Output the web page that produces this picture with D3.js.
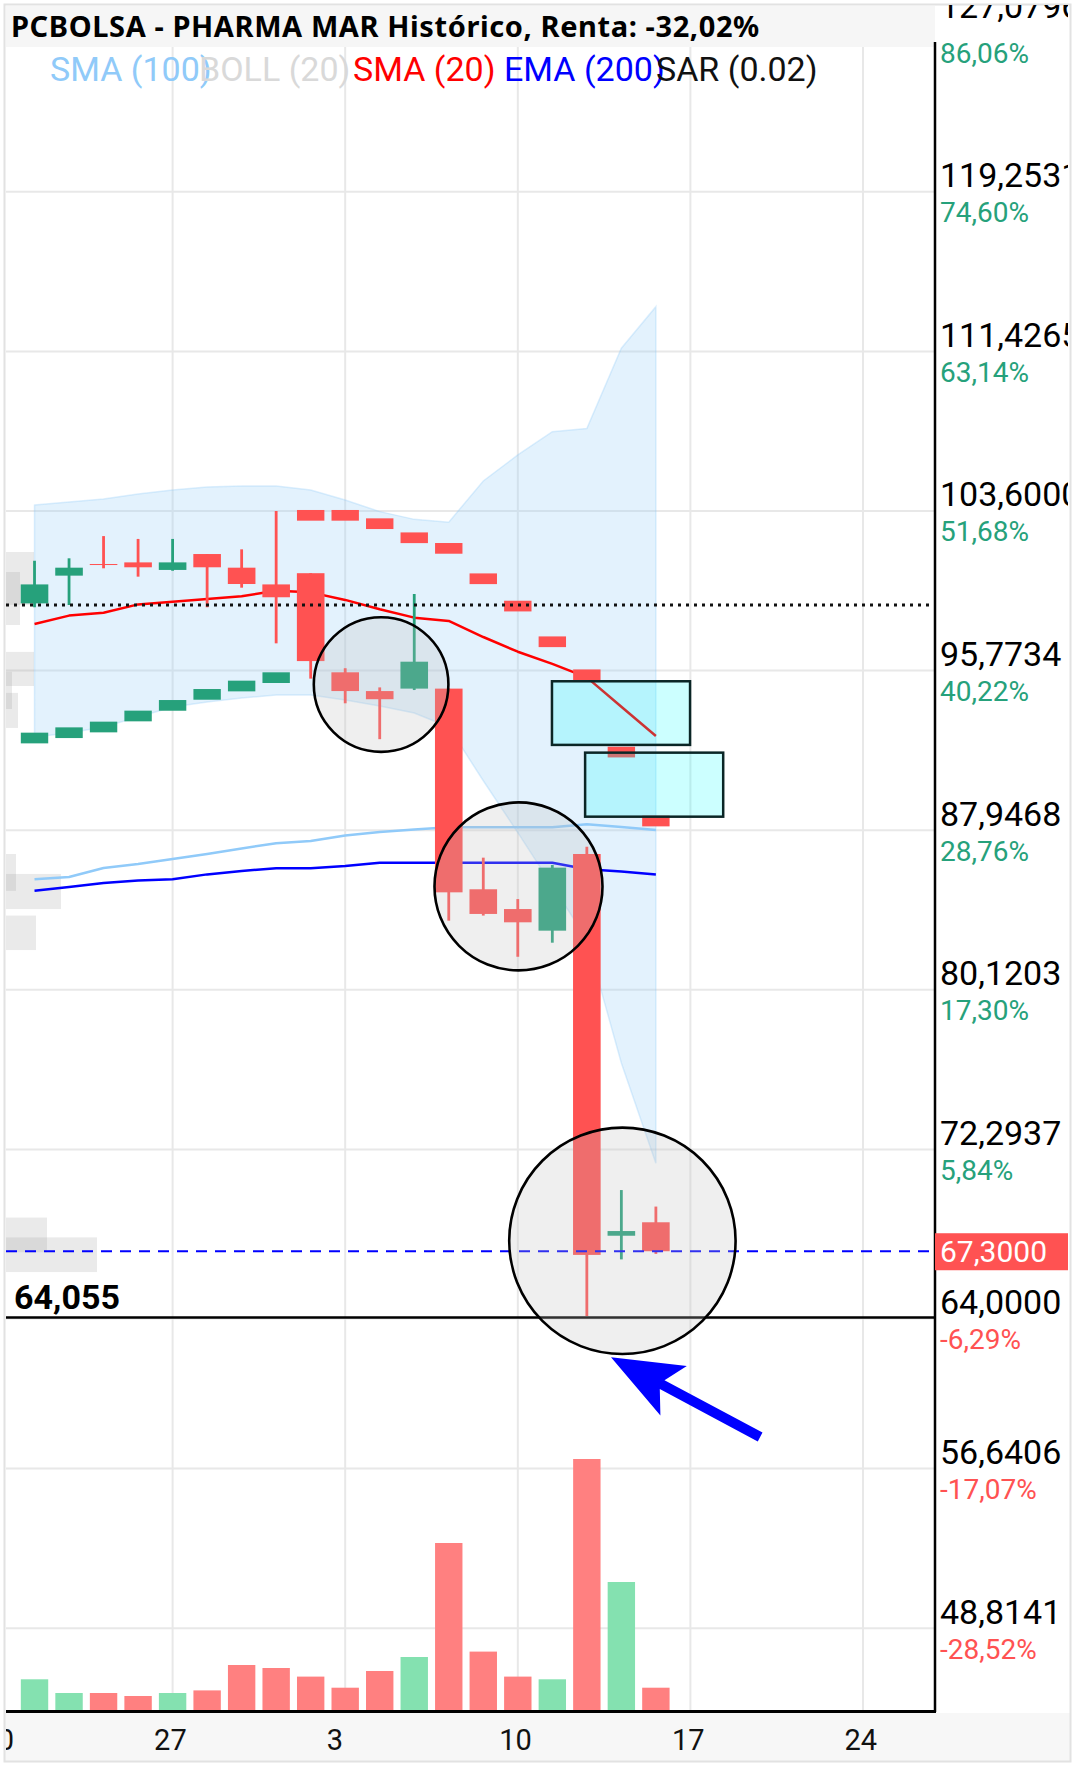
<!DOCTYPE html>
<html>
<head>
<meta charset="utf-8">
<script src="https://cdn.jsdelivr.net/npm/d3@7"></script>
<style>
  body { margin: 0; background: #fff; }
  svg { display: block; font-family: Roboto, sans-serif; }
</style>
</head>
<body>
<div id="chart"></div>
<script>
////////////////////////////////////////////////////////////////////////
// Data

// trading-day index of each candle (0 = Monday 20)
let dayIdx  = [1, 2, 3, 4, 5, 6, 7, 8, 9, 10, 11, 12, 13, 14, 15, 16, 17, 18, 19];
let opens   = [99.07, 100.43, 101.00, 101.08, 100.71, 101.49, 100.82, 100.00, 100.55, 95.69, 94.77, 94.89, 94.89, 85.05, 84.08, 83.02, 86.78, 68.06, 68.72];
let highs   = [101.16, 101.28, 102.37, 102.23, 102.23, 101.49, 101.72, 103.60, 100.55, 95.89, 94.95, 99.53, 94.89, 86.60, 84.57, 86.24, 87.14, 70.30, 69.49];
let lows    = [98.88, 98.99, 100.79, 100.38, 100.67, 98.88, 99.84, 97.11, 95.38, 94.17, 92.41, 94.82, 83.51, 83.76, 81.74, 82.43, 64.12, 66.90, 67.17];
let closes  = [100.00, 100.82, 100.97, 100.84, 101.08, 100.84, 100.02, 99.37, 96.24, 94.77, 94.37, 96.21, 84.90, 83.84, 83.43, 86.11, 67.12, 68.29, 67.30];
let volumes = [307, 170, 170, 140, 170, 196, 450, 420, 334, 223, 390, 530, 1670, 584, 334, 307, 2510, 1280, 223];

let sma20   = [98.06, 98.47, 98.61, 99.02, 99.15, 99.28, 99.42, 99.69, 99.61, 99.24, 98.78, 98.37, 98.21, 97.42, 96.70, 96.10, 95.44, 94.00, 92.57];
let sma100  = [85.54, 85.65, 86.09, 86.29, 86.53, 86.78, 87.05, 87.31, 87.42, 87.69, 87.86, 87.98, 88.09, 88.09, 88.09, 88.09, 88.24, 88.10, 87.96];
let ema200  = [84.98, 85.16, 85.36, 85.48, 85.54, 85.78, 85.95, 86.08, 86.08, 86.19, 86.35, 86.35, 86.35, 86.35, 86.35, 86.35, 86.03, 85.92, 85.78];
let bollUp  = [103.89, 104.04, 104.19, 104.43, 104.63, 104.78, 104.83, 104.83, 104.63, 104.14, 103.57, 103.19, 103.05, 105.07, 106.35, 107.49, 107.64, 111.58, 113.62];
let bollLow = [92.52, 92.71, 93.01, 93.50, 93.99, 94.23, 94.43, 94.58, 94.58, 94.33, 94.04, 93.69, 93.01, 90.37, 87.83, 85.22, 82.61, 76.53, 71.62];
let sar     = [92.47, 92.73, 93.01, 93.55, 94.07, 94.61, 95.02, 95.43, 103.39, 103.39, 102.98, 102.29, 101.77, 100.28, 98.94, 97.19, 95.57, 91.78, 88.40];

// volume-at-price boxes on the left edge
let profTop = [101.59, 100.61, 96.69, 95.71, 94.68, 86.78, 85.80, 83.76, 68.95, 67.98];
let profBot = [99.00, 98.01, 95.02, 93.89, 92.96, 84.97, 84.08, 82.07, 67.25, 66.28];
let profVol = [28, 14, 28, 6, 12, 10, 55, 30, 41, 91];

// axis ticks
let priceTicks = [127.0796, 119.2531, 111.4265, 103.6, 95.7734, 87.9468, 80.1203, 72.2937, 64.0, 56.6406, 48.8141];
let pctLabels  = ["86,06%", "74,60%", "63,14%", "51,68%", "40,22%", "28,76%", "17,30%", "5,84%", "-6,29%", "-17,07%", "-28,52%"];
let weekIdx    = [0, 5, 10, 15, 20, 25];
let weekLabels = ["20", "27", "3", "10", "17", "24"];

// reference lines
let lastPrice = 67.3;
let supportPrice = 64.055;
let dottedPrice = 98.99;

// drawn annotations: circles [day, price, radius px], boxes [day0, day1, priceTop, priceBottom]
let circleDay   = [11.04, 15.02, 18.03];
let circlePrice = [95.09, 85.19, 67.81];
let circleR     = [67.3, 84, 113.2];
let boxDay0  = [15.99, 16.95];
let boxDay1  = [19.99, 20.95];
let boxTop   = [95.25, 91.75];
let boxBot   = [92.13, 88.61];
let arrowTip  = [17.70, 62.10];
let arrowTail = [22.02, 58.19];

let legendNames  = ["SMA (100)", "BOLL (20)", "SMA (20)", "EMA (200)", "SAR (0.02)"];
let legendColors = ["#90caf9", "#d9d9d9", "#ff0000", "#0000ff", "#111111"];

////////////////////////////////////////////////////////////////////////
// Layout

let width = 1075, height = 1765;
let plotL = 6, plotR = 935, plotT = 6, plotB = 1711;
let green = "#26a17b", red = "#ff5252";
let candleW = 27.6;

let svg = d3.select("#chart").append("svg")
  .attr("width", width).attr("height", height);

let x = d3.scaleLinear().domain([0, 25]).range([0, 863]);
let y = d3.scaleLinear().domain([48.8141, 127.0796]).range([1628.2, 32.2]);
let vy = d3.scaleLinear().domain([0, 2510]).range([1710, 1459]);

let defs = svg.append("defs");
defs.append("clipPath").attr("id", "plotClip")
  .append("rect").attr("x", plotL).attr("y", plotT).attr("width", plotR - plotL).attr("height", plotB - plotT);
defs.append("clipPath").attr("id", "rightClip")
  .append("rect").attr("x", plotR).attr("y", 5).attr("width", 1068 - plotR).attr("height", plotB - 5);
defs.append("clipPath").attr("id", "bottomClip")
  .append("rect").attr("x", plotL).attr("y", plotB).attr("width", 1068 - plotL).attr("height", 60);

// bottom band + outer frame
svg.append("rect").attr("x", 5).attr("y", 1713).attr("width", 1065).attr("height", 48).attr("fill", "#f7f7f7");
svg.append("rect").attr("x", 4.5).attr("y", 4.5).attr("width", 1066).attr("height", 1757)
  .attr("fill", "none").attr("stroke", "#e2e2e2").attr("stroke-width", 2);

let plot = svg.append("g").attr("clip-path", "url(#plotClip)");

// grid
plot.append("g").selectAll("line").data(priceTicks).enter().append("line")
  .attr("x1", plotL).attr("x2", plotR)
  .attr("y1", d => y(d)).attr("y2", d => y(d))
  .attr("stroke", "#e8e8e8").attr("stroke-width", 2);
plot.append("g").selectAll("line").data(weekIdx).enter().append("line")
  .attr("x1", d => x(d)).attr("x2", d => x(d))
  .attr("y1", plotT).attr("y2", plotB)
  .attr("stroke", "#e8e8e8").attr("stroke-width", 2);

// bollinger band
let bandArea = d3.area()
  .x((d, i) => x(dayIdx[i]))
  .y0((d, i) => y(bollLow[i]))
  .y1((d, i) => y(bollUp[i]));
plot.append("path")
  .attr("d", bandArea(bollUp) + "Z")
  .attr("fill", "rgba(144,202,249,0.25)")
  .attr("stroke", "rgba(144,202,249,0.3)").attr("stroke-width", 1.5);

// volume profile boxes
plot.append("g").selectAll("rect").data(profVol).enter().append("rect")
  .attr("x", plotL)
  .attr("y", (d, i) => y(profTop[i]))
  .attr("width", d => d)
  .attr("height", (d, i) => y(profBot[i]) - y(profTop[i]))
  .attr("fill", "rgba(160,160,160,0.22)");

// volume bars
plot.append("g").selectAll("rect").data(volumes).enter().append("rect")
  .attr("x", (d, i) => x(dayIdx[i]) - 13.7)
  .attr("y", d => vy(d))
  .attr("width", 27.4)
  .attr("height", d => vy(0) - vy(d))
  .attr("fill", (d, i) => closes[i] >= opens[i] ? "#84e1b0" : "#ff8080");

// moving averages
function addLine(vals, color, w) {
  let line = d3.line().x((d, i) => x(dayIdx[i])).y(d => y(d));
  plot.append("path").datum(vals).attr("d", line)
    .attr("fill", "none").attr("stroke", color).attr("stroke-width", w).attr("stroke-linejoin", "round");
}
addLine(sma100, "#90caf9", 2.5);
addLine(ema200, "#0000ff", 2.5);
addLine(sma20, "#ff0000", 2.5);

// candles
let candles = plot.append("g").selectAll("g").data(opens).enter().append("g");
candles.append("line")
  .attr("x1", (d, i) => x(dayIdx[i])).attr("x2", (d, i) => x(dayIdx[i]))
  .attr("y1", (d, i) => y(highs[i])).attr("y2", (d, i) => y(lows[i]))
  .attr("stroke", (d, i) => closes[i] >= opens[i] ? green : red).attr("stroke-width", 2.8);
candles.append("rect")
  .attr("x", (d, i) => x(dayIdx[i]) - candleW / 2)
  .attr("y", (d, i) => y(Math.max(opens[i], closes[i])))
  .attr("width", candleW)
  .attr("height", (d, i) => Math.max(1, Math.abs(y(opens[i]) - y(closes[i]))))
  .attr("fill", (d, i) => closes[i] >= opens[i] ? green : red);

// parabolic SAR
plot.append("g").selectAll("rect").data(sar).enter().append("rect")
  .attr("x", (d, i) => x(dayIdx[i]) - 13.7)
  .attr("y", d => y(d) - 5.3)
  .attr("width", 27.4).attr("height", 10.7)
  .attr("fill", (d, i) => d < lows[i] ? green : red);

// reference lines
plot.append("line").attr("x1", plotL).attr("x2", plotR)
  .attr("y1", y(dottedPrice)).attr("y2", y(dottedPrice))
  .attr("stroke", "#111").attr("stroke-width", 3).attr("stroke-dasharray", "3,5");
plot.append("line").attr("x1", plotL).attr("x2", plotR)
  .attr("y1", y(lastPrice)).attr("y2", y(lastPrice))
  .attr("stroke", "#0000ff").attr("stroke-width", 2).attr("stroke-dasharray", "11,8");
plot.append("line").attr("x1", plotL).attr("x2", plotR)
  .attr("y1", y(supportPrice)).attr("y2", y(supportPrice))
  .attr("stroke", "#000").attr("stroke-width", 2.5);

// annotation circles
plot.append("g").selectAll("circle").data(circleR).enter().append("circle")
  .attr("cx", (d, i) => x(circleDay[i]))
  .attr("cy", (d, i) => y(circlePrice[i]))
  .attr("r", d => d)
  .attr("fill", "rgba(190,190,190,0.25)")
  .attr("stroke", "#000").attr("stroke-width", 2.6);

// annotation boxes
plot.append("g").selectAll("rect").data(boxTop).enter().append("rect")
  .attr("x", (d, i) => x(boxDay0[i]))
  .attr("y", d => y(d))
  .attr("width", (d, i) => x(boxDay1[i]) - x(boxDay0[i]))
  .attr("height", (d, i) => y(boxBot[i]) - y(d))
  .attr("fill", "rgba(0,255,255,0.2)")
  .attr("stroke", "#0b2626").attr("stroke-width", 2.5);

// arrow
let tip = [x(arrowTip[0]), y(arrowTip[1])];
let tail = [x(arrowTail[0]), y(arrowTail[1])];
let len = Math.hypot(tip[0] - tail[0], tip[1] - tail[1]);
let ux = (tip[0] - tail[0]) / len, uy = (tip[1] - tail[1]) / len;
let px = -uy, py = ux;
let headL = 71, headW = 28, notch = 58, shaftW = 5;
let pt = (a, b) => [tip[0] - ux * a + px * b, tip[1] - uy * a + py * b];
let arrowPts = [
  tip, pt(headL, headW), pt(notch, shaftW),
  [tail[0] + px * shaftW, tail[1] + py * shaftW],
  [tail[0] - px * shaftW, tail[1] - py * shaftW],
  pt(notch, -shaftW), pt(headL, -headW)
];
plot.append("polygon").attr("points", arrowPts.map(p => p.join(",")).join(" ")).attr("fill", "#0000ff");

// title band + legend
plot.append("rect").attr("x", plotL).attr("y", plotT).attr("width", plotR - plotL).attr("height", 41).attr("fill", "#f6f6f6");
plot.append("text").attr("x", 11).attr("y", 37)
  .style("font-family", "'Noto Sans', 'Open Sans', sans-serif")
  .style("font-weight", "bold").style("font-size", "29px").style("letter-spacing", "0.6px")
  .attr("fill", "#000")
  .text("PCBOLSA - PHARMA MAR Histórico, Renta: -32,02%");

let legendX = [50, 199, 353, 504, 656];
plot.append("g").selectAll("text").data(legendNames).enter().append("text")
  .attr("x", (d, i) => legendX[i]).attr("y", 81)
  .style("font-size", "34px")
  .attr("fill", (d, i) => legendColors[i])
  .text(d => d);

plot.append("text").attr("x", 14).attr("y", 1309)
  .style("font-size", "34px").style("font-weight", "bold").attr("fill", "#000")
  .text(supportPrice.toFixed(3).replace(".", ","));

// axes lines
svg.append("line").attr("x1", plotR).attr("x2", plotR).attr("y1", 42).attr("y2", 1712)
  .attr("stroke", "#000").attr("stroke-width", 2.5);
svg.append("line").attr("x1", plotL).attr("x2", plotR + 1).attr("y1", 1711.5).attr("y2", 1711.5)
  .attr("stroke", "#000").attr("stroke-width", 3);

// right price axis
let rightG = svg.append("g").attr("clip-path", "url(#rightClip)");
let yAxis = d3.axisRight(y).tickValues(priceTicks).tickSize(0)
  .tickFormat(d => d.toFixed(4).replace(".", ","));
let yAxisG = rightG.append("g").attr("transform", "translate(" + plotR + ",0)").call(yAxis);
yAxisG.select(".domain").remove();
yAxisG.selectAll("text")
  .attr("x", 5).attr("dy", 0)
  .attr("y", (d, i) => i === 0 ? -15 : -5)
  .style("font-family", "Roboto, sans-serif").style("font-size", "34px").attr("fill", "#000");
yAxisG.selectAll(".tick").append("text")
  .attr("x", 5).attr("y", 30)
  .style("font-family", "Roboto, sans-serif").style("font-size", "28px")
  .attr("fill", (d, i) => pctLabels[i].startsWith("-") ? red : green)
  .attr("text-anchor", "start")
  .text((d, i) => pctLabels[i]);

// last price tag
rightG.append("rect").attr("x", 931.5).attr("y", y(lastPrice) - 18).attr("width", 138).attr("height", 37).attr("fill", red);
rightG.append("text").attr("x", 940).attr("y", y(lastPrice) + 11)
  .style("font-size", "30px").attr("fill", "#fff")
  .text(lastPrice.toFixed(4).replace(".", ","));

// bottom date axis
let xAxis = d3.axisBottom(x).tickValues(weekIdx).tickSize(0)
  .tickFormat((d, i) => weekLabels[i]);
let xAxisG = svg.append("g").attr("clip-path", "url(#bottomClip)")
  .append("g").attr("transform", "translate(0," + plotB + ")").call(xAxis);
xAxisG.select(".domain").remove();
xAxisG.selectAll("text")
  .attr("text-anchor", "start").attr("dx", -19).attr("y", 39).attr("dy", 0)
  .style("font-family", "Roboto, sans-serif").style("font-size", "29px").attr("fill", "#111");
</script>
</body>
</html>
